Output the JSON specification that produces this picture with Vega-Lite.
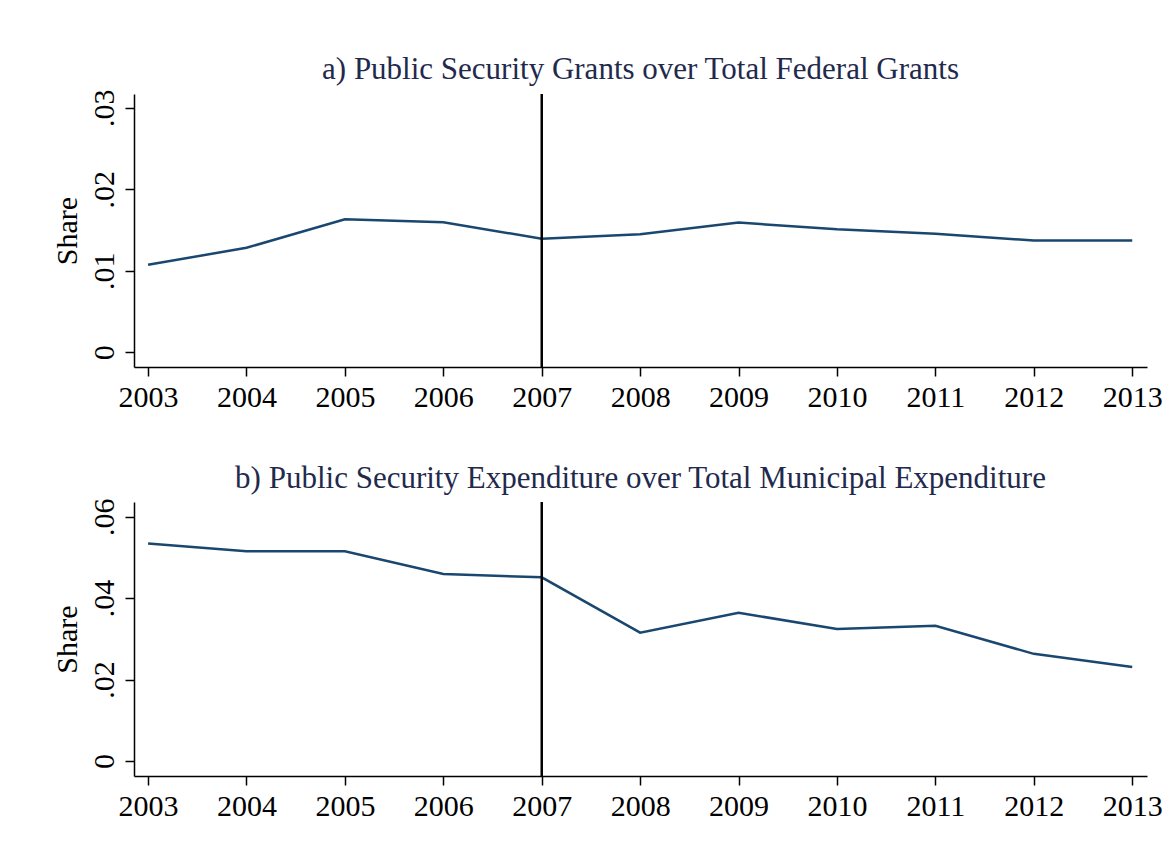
{
  "$schema": "https://vega.github.io/schema/vega-lite/v6.json",
  "background": "white",
  "padding": {"left": 52, "top": 54, "right": 5, "bottom": 5},
  "spacing": 50,
  "config": {
    "font": "Liberation Serif",
    "view": {"stroke": null},
    "axis": {
      "labelFont": "Liberation Serif",
      "titleFont": "Liberation Serif",
      "labelFontSize": 30,
      "titleFontSize": 30,
      "labelColor": "black",
      "titleColor": "black",
      "titleFontWeight": "normal",
      "domainColor": "black",
      "tickColor": "black",
      "domainWidth": 1.5,
      "tickWidth": 1.5,
      "tickSize": 9,
      "grid": false
    },
    "axisX": {"labelPadding": 6, "labelBaseline": "top"},
    "axisY": {"labelAngle": -90, "labelAlign": "center", "labelBaseline": "alphabetic", "labelPadding": 12, "titlePadding": 7},
    "title": {
      "font": "Liberation Serif",
      "fontSize": 31,
      "fontWeight": "normal",
      "color": "#1f2a4d",
      "anchor": "middle",
      "frame": "group",
      "baseline": "alphabetic",
      "offset": 3
    }
  },
  "datasets": {
    "grants": [
      {"year": 2003, "share": 0.01074},
      {"year": 2004, "share": 0.01283},
      {"year": 2005, "share": 0.01632},
      {"year": 2006, "share": 0.01595},
      {"year": 2007, "share": 0.01395},
      {"year": 2008, "share": 0.01448},
      {"year": 2009, "share": 0.01592},
      {"year": 2010, "share": 0.01509},
      {"year": 2011, "share": 0.01456},
      {"year": 2012, "share": 0.01371},
      {"year": 2013, "share": 0.01371}
    ],
    "expenditure": [
      {"year": 2003, "share": 0.0534},
      {"year": 2004, "share": 0.0515},
      {"year": 2005, "share": 0.0515},
      {"year": 2006, "share": 0.0459},
      {"year": 2007, "share": 0.0451},
      {"year": 2008, "share": 0.0315},
      {"year": 2009, "share": 0.0364},
      {"year": 2010, "share": 0.0324},
      {"year": 2011, "share": 0.0332},
      {"year": 2012, "share": 0.0263},
      {"year": 2013, "share": 0.0231}
    ],
    "reform": [{"year": 2007}]
  },
  "vconcat": [
    {
      "title": "a) Public Security Grants over Total Federal Grants",
      "width": 1013,
      "height": 273,
      "layer": [
        {
          "data": {"name": "grants"},
          "mark": {"type": "line", "color": "#1a476f", "strokeWidth": 2.5},
          "encoding": {
            "x": {
              "field": "year", "type": "quantitative",
              "scale": {"domain": [2002.857, 2013.15], "nice": false, "zero": false},
              "axis": {"values": [2003, 2004, 2005, 2006, 2007, 2008, 2009, 2010, 2011, 2012, 2013], "format": "d", "title": null}
            },
            "y": {
              "field": "share", "type": "quantitative",
              "scale": {"domain": [-0.0018, 0.0317], "nice": false, "zero": false},
              "axis": {"values": [0, 0.01, 0.02, 0.03], "title": "Share", "labelExpr": "datum.value == 0 ? '0' : replace(format(datum.value, '.2f'), '0.', '.')"}
            }
          }
        },
        {
          "data": {"name": "reform"},
          "mark": {"type": "rule", "color": "black", "strokeWidth": 2.5},
          "encoding": {"x": {"field": "year", "type": "quantitative"}}
        }
      ]
    },
    {
      "title": "b) Public Security Expenditure over Total Municipal Expenditure",
      "width": 1013,
      "height": 274,
      "layer": [
        {
          "data": {"name": "expenditure"},
          "mark": {"type": "line", "color": "#1a476f", "strokeWidth": 2.5},
          "encoding": {
            "x": {
              "field": "year", "type": "quantitative",
              "scale": {"domain": [2002.857, 2013.15], "nice": false, "zero": false},
              "axis": {"values": [2003, 2004, 2005, 2006, 2007, 2008, 2009, 2010, 2011, 2012, 2013], "format": "d", "title": null}
            },
            "y": {
              "field": "share", "type": "quantitative",
              "scale": {"domain": [-0.0037, 0.0636], "nice": false, "zero": false},
              "axis": {"values": [0, 0.02, 0.04, 0.06], "title": "Share", "labelExpr": "datum.value == 0 ? '0' : replace(format(datum.value, '.2f'), '0.', '.')"}
            }
          }
        },
        {
          "data": {"name": "reform"},
          "mark": {"type": "rule", "color": "black", "strokeWidth": 2.5},
          "encoding": {"x": {"field": "year", "type": "quantitative"}}
        }
      ]
    }
  ]
}
